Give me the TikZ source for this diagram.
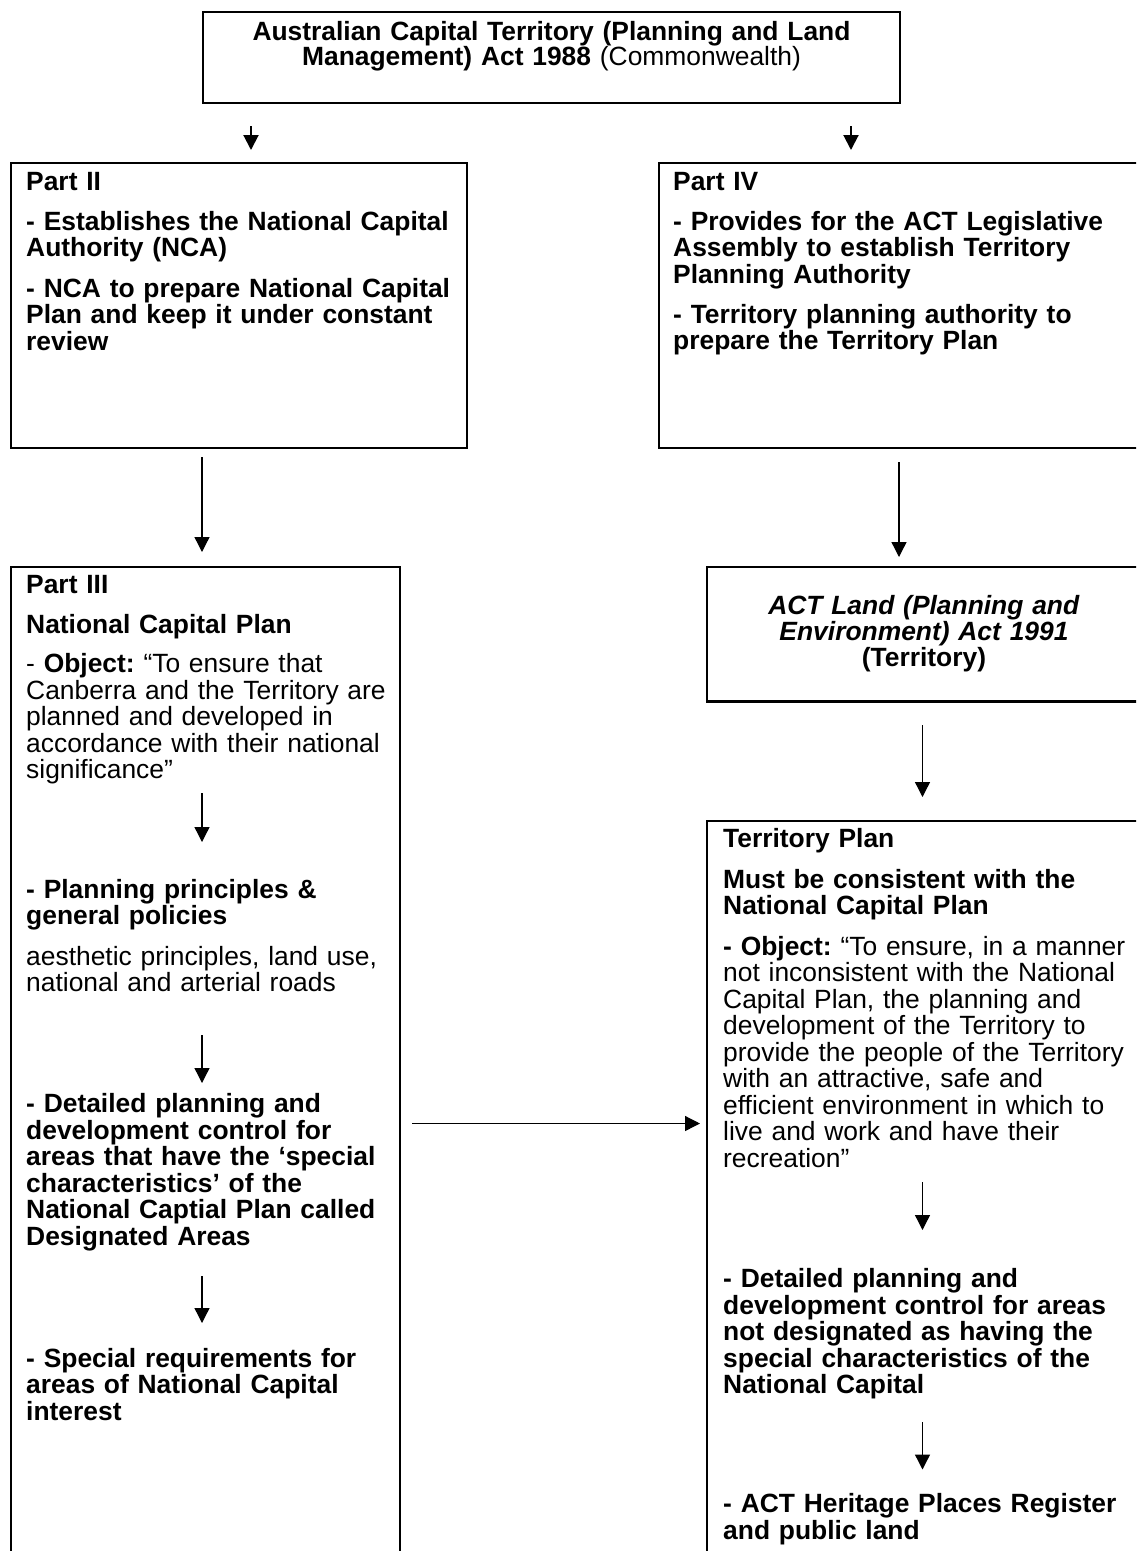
\documentclass[tikz,border=0pt]{standalone}
\usepackage{fontspec}
\setmainfont{Liberation Sans}
\usetikzlibrary{arrows.meta}
\frenchspacing
\begin{document}
\begin{tikzpicture}[x=1pt,y=-1pt,
  box/.style={draw, line width=2.2pt, inner sep=0pt, outer sep=0pt, anchor=north west},
  txt/.style={font=\fontsize{26.4}{26.5}\selectfont, align=left, text width=480pt, inner sep=0pt, anchor=base west},
  ctxt/.style={align=center, text width=640pt, inner sep=0pt, anchor=base},
  arr/.style={line width=1.3pt, -{Triangle[length=15pt,width=15pt]}},
  sarr/.style={line width=2pt, -{Triangle[length=15pt,width=15pt]}}
]
\useasboundingbox (0,0) rectangle (1136,1551);
\clip (0,0) rectangle (1136,1551);
\fill[white] (0,0) rectangle (1136,1551);

% boxes
\node[box, minimum width=697pt, minimum height=91pt] (top) at (203,12) {};
\node[box, minimum width=456pt, minimum height=285pt] (p2) at (11,163) {};
\node[box, minimum width=491pt, minimum height=285pt] (p4) at (659,163) {};
\node[box, minimum width=389pt, minimum height=1013pt] (p3) at (11,567) {};
\node[box, minimum width=434pt, minimum height=134.5pt] (act) at (707,567) {};
\node[box, minimum width=443pt, minimum height=759pt] (tp) at (707,821) {};

% title
\node[ctxt, font=\fontsize{26.4}{25}\selectfont] (ttl) at (551.5,40)
  {\textbf{Australian Capital Territory (Planning and Land}\\\textbf{Management) Act 1988} (Commonwealth)};

% Part II
\node[txt] (p2a) at (26,190) {\textbf{Part II}};
\node[txt] (p2b) at (26,230) {\textbf{- Establishes the National Capital}\\\textbf{Authority (NCA)}};
\node[txt] (p2c) at (26,297) {\textbf{- NCA to prepare National Capital}\\\textbf{Plan and keep it under constant}\\\textbf{review}};

% Part IV
\node[txt] (p4a) at (673,190) {\textbf{Part IV}};
\node[txt] (p4b) at (673,230) {\textbf{- Provides for the ACT Legislative}\\\textbf{Assembly to establish Territory}\\\textbf{Planning Authority}};
\node[txt] (p4c) at (673,323) {\textbf{- Territory planning authority to}\\\textbf{prepare the Territory Plan}};

% Part III
\node[txt] (p3a) at (26,593) {\textbf{Part III}};
\node[txt] (p3b) at (26,633) {\textbf{National Capital Plan}};
\node[txt] (p3c) at (26,672.5) {- \textbf{Object:} “To ensure that\\Canberra and the Territory are\\planned and developed in\\accordance with their national\\significance”};
\node[txt] (p3d) at (26,898) {\textbf{- Planning principles \&}\\\textbf{general policies}};
\node[txt] (p3e) at (26,965) {aesthetic principles, land use,\\national and arterial roads};
\node[txt] (p3f) at (26,1112.7) {\textbf{- Detailed planning and}\\\textbf{development control for}\\\textbf{areas that have the ‘special}\\\textbf{characteristics’ of the}\\\textbf{National Captial Plan called}\\\textbf{Designated Areas}};
\node[txt] (p3g) at (26,1367) {\textbf{- Special requirements for}\\\textbf{areas of National Capital}\\\textbf{interest}};

% ACT Land Act
\node[ctxt, font=\fontsize{26.4}{26.3}\selectfont] (actt) at (924,614)
  {\textbf{\textit{ACT Land (Planning and}}\\\textbf{\textit{Environment) Act 1991}}\\\textbf{(Territory)}};

% Territory Plan
\node[txt] (tpa) at (723,847) {\textbf{Territory Plan}};
\node[txt] (tpb) at (723,888) {\textbf{Must be consistent with the}\\\textbf{National Capital Plan}};
\node[txt] (tpc) at (723,955) {\textbf{- Object:} “To ensure, in a manner\\not inconsistent with the National\\Capital Plan, the planning and\\development of the Territory to\\provide the people of the Territory\\with an attractive, safe and\\efficient environment in which to\\live and work and have their\\recreation”};
\node[txt] (tpd) at (723,1287.7) {\textbf{- Detailed planning and}\\\textbf{development control for areas}\\\textbf{not designated as having the}\\\textbf{special characteristics of the}\\\textbf{National Capital}};
\node[txt] (tpe) at (723,1512.7) {\textbf{- ACT Heritage Places Register}\\\textbf{and public land}};

% arrow end points
\coordinate (a1s) at (251,126);   \coordinate (a1e) at (251,150);
\coordinate (a2s) at (851,126);   \coordinate (a2e) at (851,150);
\coordinate (a3s) at (202,457);   \coordinate (a3e) at (202,552);
\coordinate (a4s) at (899,462);   \coordinate (a4e) at (899,557);
\coordinate (a5s) at (202,793);   \coordinate (a5e) at (202,842);
\coordinate (a6s) at (202,1035);  \coordinate (a6e) at (202,1083);
\coordinate (a7s) at (202,1276);  \coordinate (a7e) at (202,1323);
\coordinate (a8s) at (412,1123.5);\coordinate (a8e) at (700,1123.5);
\coordinate (a9s) at (922.5,725); \coordinate (a9e) at (922.5,797);
\coordinate (a10s) at (922.5,1182); \coordinate (a10e) at (922.5,1230);
\coordinate (a11s) at (922.5,1422); \coordinate (a11e) at (922.5,1469.5);

\draw[sarr] (a1s) -- (a1e);
\draw[sarr] (a2s) -- (a2e);
\draw[arr] (a3s) -- (a3e);
\draw[arr] (a4s) -- (a4e);
\draw[arr] (a5s) -- (a5e);
\draw[arr] (a6s) -- (a6e);
\draw[arr] (a7s) -- (a7e);
\draw[arr] (a8s) -- (a8e);
\draw[arr] (a9s) -- (a9e);
\draw[arr] (a10s) -- (a10e);
\draw[arr] (a11s) -- (a11e);
\end{tikzpicture}
\end{document}
